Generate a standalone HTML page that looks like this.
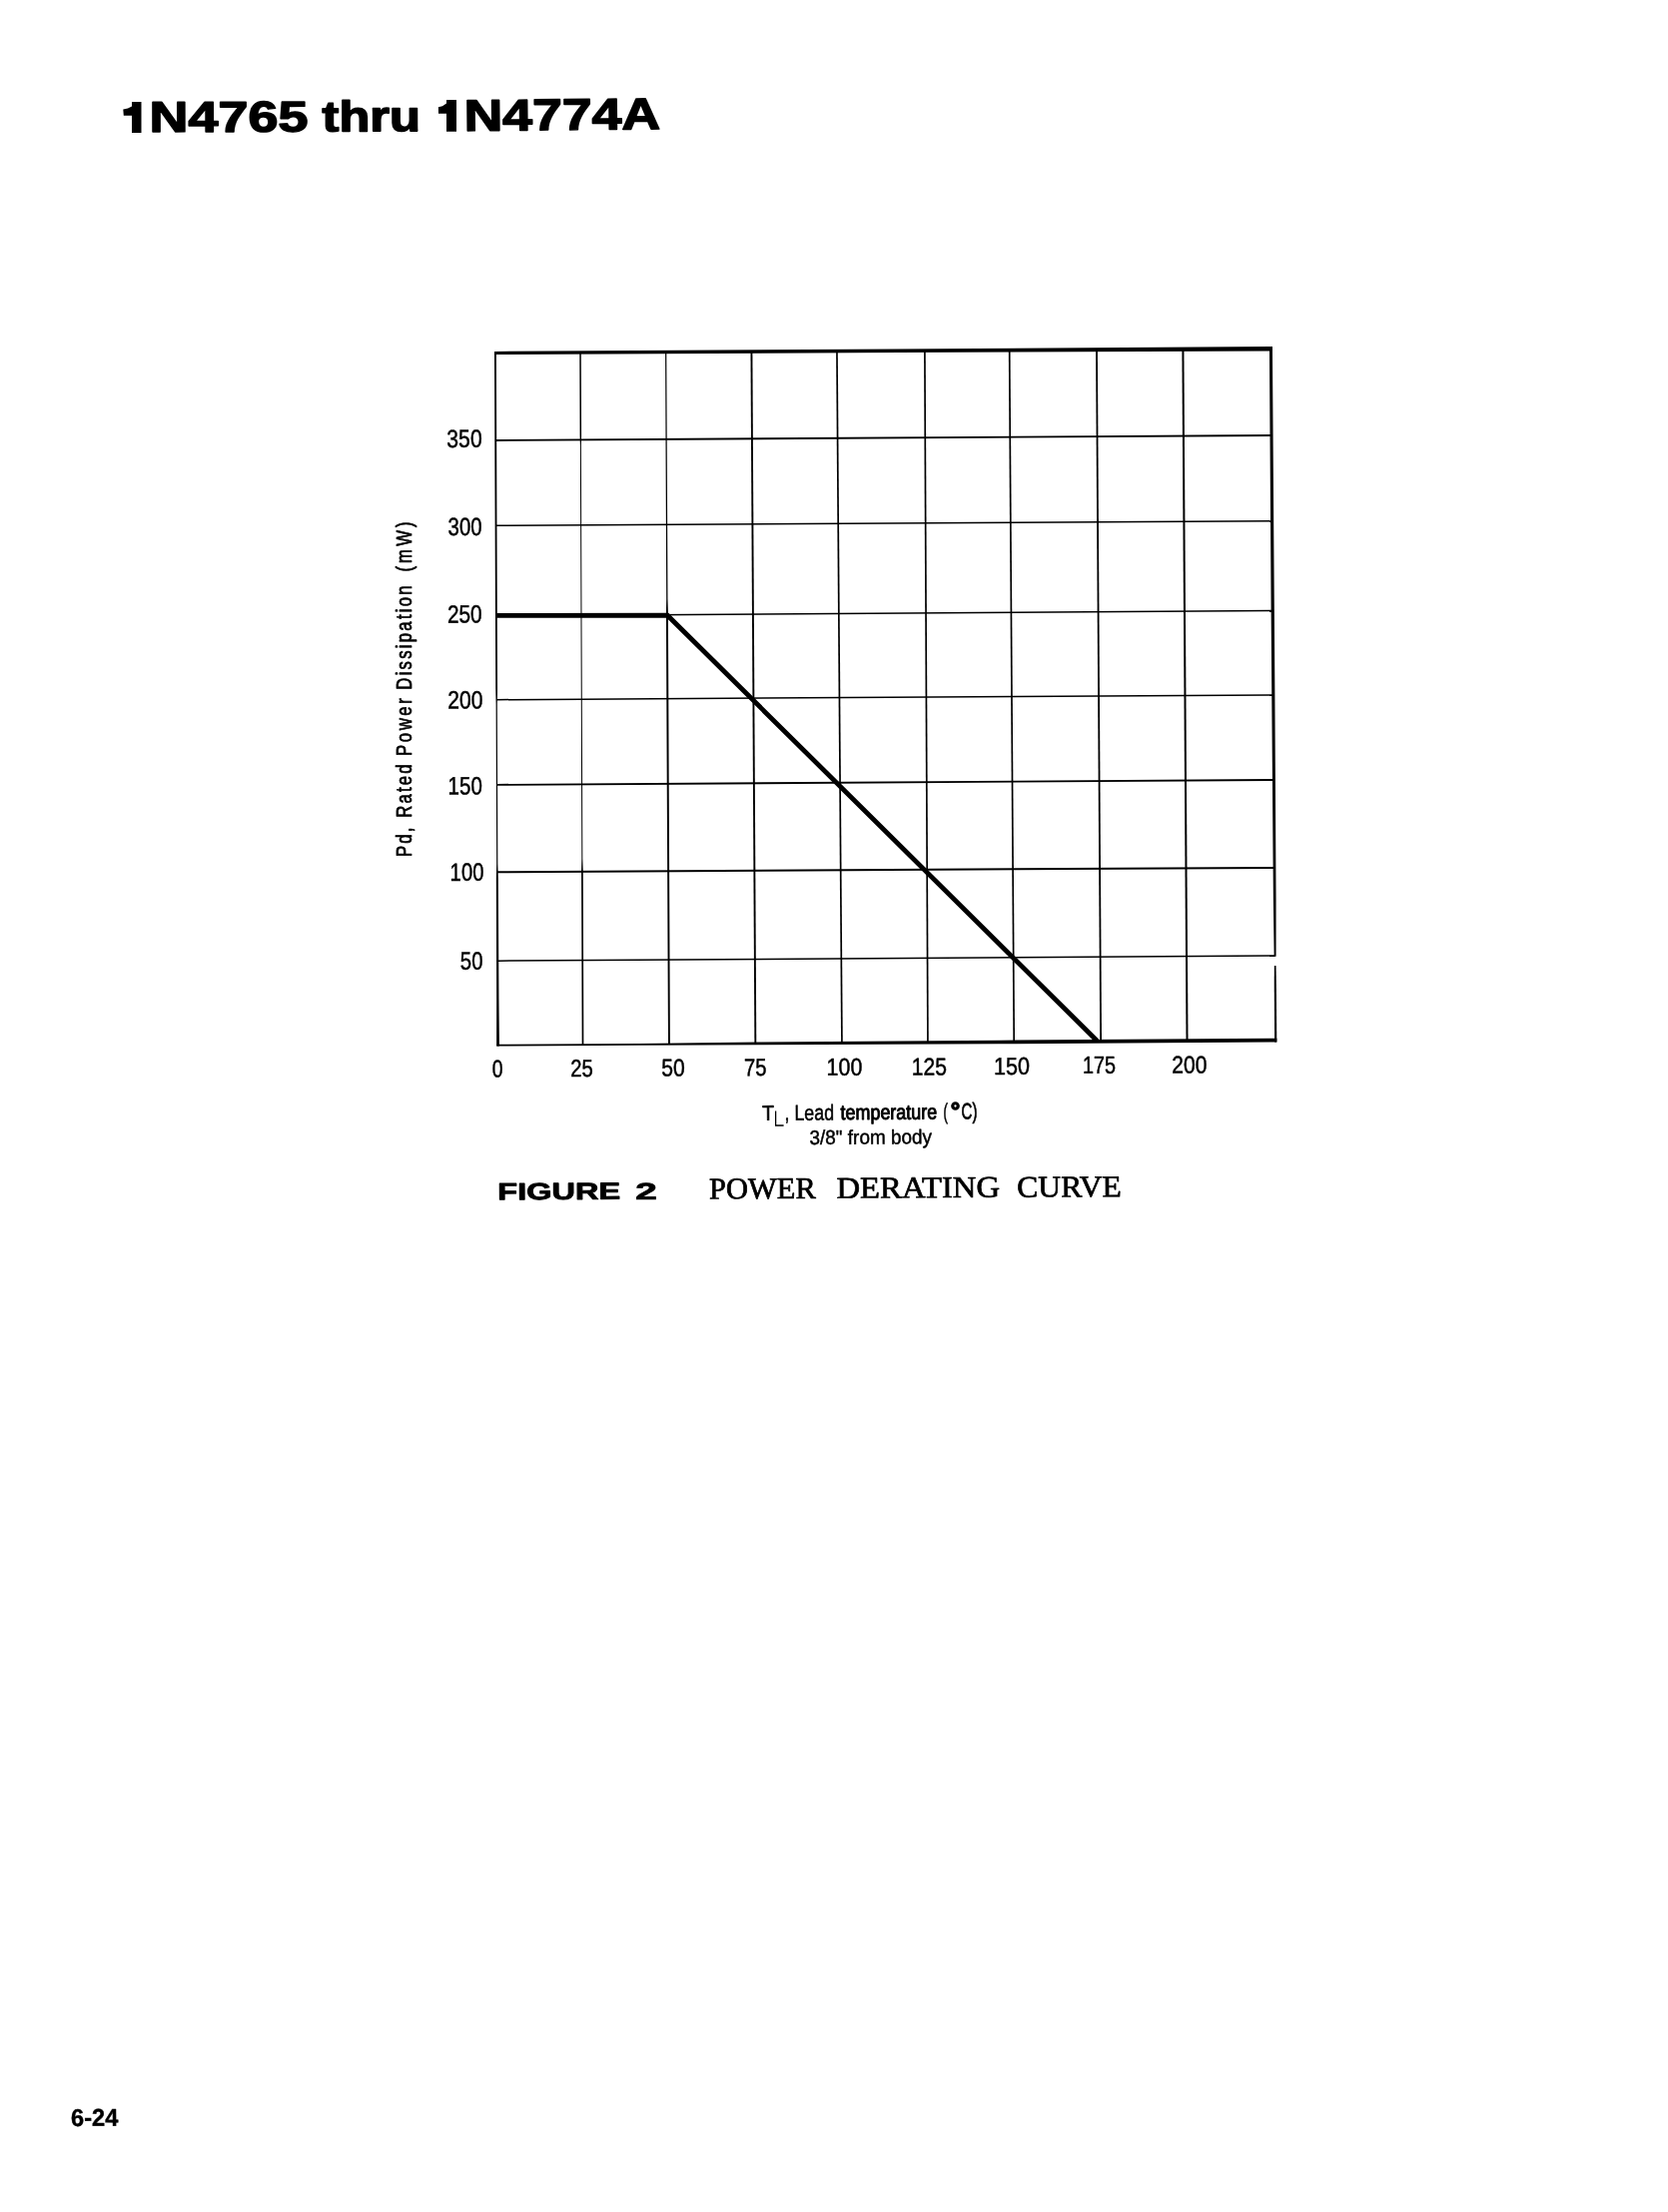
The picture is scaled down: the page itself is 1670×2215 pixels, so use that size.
<!DOCTYPE html>
<html><head><meta charset="utf-8"><title>1N4765 thru 1N4774A</title>
<style>
html,body{margin:0;padding:0;background:#fff;}
body{width:1670px;height:2215px;overflow:hidden;font-family:"Liberation Sans",sans-serif;}
svg{display:block;position:absolute;left:0;top:0;filter:grayscale(1);}
svg text{fill:#000;white-space:pre;}
svg .g line, svg .g polyline{stroke:#000;stroke-linecap:butt;}
</style></head><body>
<svg width="1670" height="2215" viewBox="0 0 1670 2215">
<rect width="1670" height="2215" fill="#fff"/>
<g class="g">
<polygon fill="#000" stroke="none" points="494.98,353.50 496.24,690.00 496.60,705.00 497.17,865.00 496.82,880.00 497.16,1000.00 497.13,1047.49 499.93,1047.49 499.46,1000.00 498.82,880.00 498.37,865.00 497.80,705.00 498.04,690.00 496.88,353.50"/>
<polygon fill="#000" stroke="none" points="580.28,353.03 580.58,436.00 580.87,446.00 582.35,860.00 582.05,872.00 582.67,1046.14 584.37,1046.14 583.75,872.00 583.35,860.00 581.87,446.00 582.08,436.00 581.78,353.03"/>
<polygon fill="#000" stroke="none" points="666.08,352.56 667.19,600.00 666.90,614.00 668.98,1045.59 670.88,1045.59 668.90,614.00 668.49,600.00 667.28,352.56"/>
<line x1="752.43" y1="352.09" x2="756.33" y2="1045.03" stroke-width="1.9"/>
<line x1="837.95" y1="351.61" x2="842.93" y2="1044.48" stroke-width="1.7"/>
<line x1="925.89" y1="351.13" x2="928.92" y2="1043.92" stroke-width="1.7"/>
<line x1="1010.68" y1="350.66" x2="1015.22" y2="1043.37" stroke-width="1.7"/>
<line x1="1098.00" y1="350.18" x2="1102.12" y2="1042.81" stroke-width="1.8"/>
<line x1="1184.40" y1="349.70" x2="1188.51" y2="1042.26" stroke-width="2.0"/>
<polygon fill="#000" stroke="none" points="1270.94,347.01 1272.61,610.00 1273.32,700.00 1274.86,900.00 1275.65,957.79 1277.55,957.79 1277.56,900.00 1276.42,700.00 1275.81,610.00 1273.94,347.01"/>
<polygon fill="#000" stroke="none" points="1275.81,967.00 1275.76,990.00 1276.12,1043.49 1278.32,1043.49 1277.86,990.00 1277.51,967.00"/>
<line x1="496.25" y1="441.00" x2="1273.04" y2="436.01" stroke-width="1.9"/>
<line x1="496.55" y1="526.30" x2="1273.62" y2="521.81" stroke-width="1.4"/>
<line x1="496.88" y1="616.80" x2="1274.22" y2="611.51" stroke-width="1.4"/>
<line x1="497.18" y1="700.70" x2="1274.79" y2="695.90" stroke-width="1.5"/>
<line x1="497.49" y1="785.90" x2="1275.36" y2="781.00" stroke-width="1.9"/>
<line x1="497.80" y1="873.30" x2="1275.95" y2="868.89" stroke-width="2.0"/>
<line x1="498.12" y1="962.19" x2="1276.54" y2="956.99" stroke-width="1.5"/>
<polygon fill="#000" stroke="none" points="494.93,351.91 900.00,349.47 1273.96,346.91 1273.96,351.51 900.00,353.07 494.93,355.11"/>
<polygon fill="#000" stroke="none" points="497.42,1045.80 640.00,1044.88 760.00,1043.61 1000.00,1041.67 1278.31,1039.78 1278.31,1043.48 1000.00,1045.27 760.00,1046.31 640.00,1046.78 497.42,1047.60"/>
<polyline fill="none" stroke-width="4.8" stroke-linejoin="miter" points="496.88,616.4 668.3,616.2 1098.4,1042.2"/>
</g>
<g class="t">
<text transform="translate(152.70,132.10) rotate(-0.150) scale(0.53939,0.43143) translate(-6.000,0)" font-family="Liberation Sans, sans-serif" font-weight="bold" font-size="100" stroke="#000" stroke-width="3.30" stroke-linejoin="round">N4765</text>
<text transform="translate(323.00,131.50) rotate(-0.200) scale(0.50721,0.43143) translate(-1.000,0)" font-family="Liberation Sans, sans-serif" font-weight="bold" font-size="100" stroke="#000" stroke-width="3.41" stroke-linejoin="round">thru</text>
<text transform="translate(467.90,131.00) rotate(-0.570) scale(0.53586,0.44286) translate(-6.000,0)" font-family="Liberation Sans, sans-serif" font-weight="bold" font-size="100" stroke="#000" stroke-width="3.27" stroke-linejoin="round">N4774A</text>
<text transform="translate(447.93,447.88) rotate(-0.320) scale(0.21251,0.25071) translate(-3.000,0)" font-family="Liberation Sans, sans-serif" font-weight="normal" font-size="100" stroke="#000" stroke-width="1.94" stroke-linejoin="round">350</text>
<text transform="translate(449.23,536.07) rotate(-0.320) scale(0.20439,0.25071) translate(-3.000,0)" font-family="Liberation Sans, sans-serif" font-weight="normal" font-size="100" stroke="#000" stroke-width="1.98" stroke-linejoin="round">300</text>
<text transform="translate(448.93,623.67) rotate(-0.320) scale(0.20887,0.25071) translate(-5.000,0)" font-family="Liberation Sans, sans-serif" font-weight="normal" font-size="100" stroke="#000" stroke-width="1.96" stroke-linejoin="round">250</text>
<text transform="translate(449.23,709.57) rotate(-0.320) scale(0.21140,0.25071) translate(-5.000,0)" font-family="Liberation Sans, sans-serif" font-weight="normal" font-size="100" stroke="#000" stroke-width="1.95" stroke-linejoin="round">200</text>
<text transform="translate(450.03,795.57) rotate(-0.320) scale(0.20579,0.25071) translate(-7.000,0)" font-family="Liberation Sans, sans-serif" font-weight="normal" font-size="100" stroke="#000" stroke-width="1.97" stroke-linejoin="round">150</text>
<text transform="translate(452.03,881.88) rotate(-0.320) scale(0.20323,0.25071) translate(-7.000,0)" font-family="Liberation Sans, sans-serif" font-weight="normal" font-size="100" stroke="#000" stroke-width="1.98" stroke-linejoin="round">100</text>
<text transform="translate(461.62,970.77) rotate(-0.320) scale(0.20412,0.25071) translate(-4.000,0)" font-family="Liberation Sans, sans-serif" font-weight="normal" font-size="100" stroke="#000" stroke-width="1.98" stroke-linejoin="round">50</text>
<text transform="translate(493.23,1078.48) rotate(-0.320) scale(0.19490,0.24357) translate(-3.000,0)" font-family="Liberation Sans, sans-serif" font-weight="normal" font-size="100" stroke="#000" stroke-width="2.05" stroke-linejoin="round">0</text>
<text transform="translate(572.23,1078.08) rotate(-0.320) scale(0.20319,0.24357) translate(-5.000,0)" font-family="Liberation Sans, sans-serif" font-weight="normal" font-size="100" stroke="#000" stroke-width="2.01" stroke-linejoin="round">25</text>
<text transform="translate(663.02,1077.58) rotate(-0.320) scale(0.21184,0.24357) translate(-4.000,0)" font-family="Liberation Sans, sans-serif" font-weight="normal" font-size="100" stroke="#000" stroke-width="1.98" stroke-linejoin="round">50</text>
<text transform="translate(745.93,1077.18) rotate(-0.320) scale(0.20319,0.24357) translate(-5.000,0)" font-family="Liberation Sans, sans-serif" font-weight="normal" font-size="100" stroke="#000" stroke-width="2.01" stroke-linejoin="round">75</text>
<text transform="translate(829.02,1076.78) rotate(-0.320) scale(0.21475,0.24357) translate(-7.000,0)" font-family="Liberation Sans, sans-serif" font-weight="normal" font-size="100" stroke="#000" stroke-width="1.96" stroke-linejoin="round">100</text>
<text transform="translate(914.23,1076.58) rotate(-0.320) scale(0.21155,0.24357) translate(-7.000,0)" font-family="Liberation Sans, sans-serif" font-weight="normal" font-size="100" stroke="#000" stroke-width="1.98" stroke-linejoin="round">125</text>
<text transform="translate(996.52,1075.98) rotate(-0.320) scale(0.21667,0.24357) translate(-7.000,0)" font-family="Liberation Sans, sans-serif" font-weight="normal" font-size="100" stroke="#000" stroke-width="1.96" stroke-linejoin="round">150</text>
<text transform="translate(1085.42,1074.78) rotate(-0.320) scale(0.19874,0.24357) translate(-7.000,0)" font-family="Liberation Sans, sans-serif" font-weight="normal" font-size="100" stroke="#000" stroke-width="2.03" stroke-linejoin="round">175</text>
<text transform="translate(1174.32,1074.58) rotate(-0.320) scale(0.21203,0.24357) translate(-5.000,0)" font-family="Liberation Sans, sans-serif" font-weight="normal" font-size="100" stroke="#000" stroke-width="1.98" stroke-linejoin="round">200</text>
<text transform="translate(763.75,1121.85) rotate(-0.320) scale(0.19123,0.21014) translate(-2.000,0)" font-family="Liberation Sans, sans-serif" font-weight="normal" font-size="100" stroke="#000" stroke-width="3.49" stroke-linejoin="round">T</text>
<text transform="translate(787.02,1121.78) rotate(-0.320) scale(0.17794,0.21667) translate(-8.000,0)" font-family="Liberation Sans, sans-serif" font-weight="normal" font-size="100" stroke="#000" stroke-width="2.28" stroke-linejoin="round">, Lead</text>
<text transform="translate(841.75,1121.05) rotate(-0.320) scale(0.17922,0.21014) translate(-1.000,0)" font-family="Liberation Sans, sans-serif" font-weight="normal" font-size="100" stroke="#000" stroke-width="4.62" stroke-linejoin="round">temperature</text>
<text transform="translate(945.23,1120.68) rotate(-0.320) scale(0.13519,0.22246) translate(-6.000,0)" font-family="Liberation Sans, sans-serif" font-weight="normal" font-size="100" stroke="#000" stroke-width="2.52" stroke-linejoin="round">(</text>
<text transform="translate(963.30,1120.40) rotate(-0.320) scale(0.15123,0.22609) translate(-5.000,0)" font-family="Liberation Sans, sans-serif" font-weight="normal" font-size="100" stroke="#000" stroke-width="3.18" stroke-linejoin="round">C)</text>
<text transform="translate(811.12,1145.88) rotate(-0.320) scale(0.18939,0.20071) translate(-3.000,0)" font-family="Liberation Sans, sans-serif" font-weight="normal" font-size="100" stroke="#000" stroke-width="2.31" stroke-linejoin="round">3/8&quot; from body</text>
<text transform="translate(500.30,1201.30) rotate(-0.320) scale(0.32547,0.23623) translate(-6.000,0)" font-family="Liberation Sans, sans-serif" font-weight="bold" font-size="100" stroke="#000" stroke-width="3.56" stroke-linejoin="round">FIGURE</text>
<text transform="translate(637.50,1200.90) rotate(-0.320) scale(0.38776,0.23286) translate(-3.000,0)" font-family="Liberation Sans, sans-serif" font-weight="bold" font-size="100" stroke="#000" stroke-width="3.22" stroke-linejoin="round">2</text>
<text transform="translate(710.65,1200.45) rotate(-0.320) scale(0.30520,0.30308) translate(-2.000,0)" font-family="Liberation Serif, serif" font-weight="normal" font-size="100" stroke="#000" stroke-width="2.30" stroke-linejoin="round">POWER</text>
<text transform="translate(838.05,1199.65) rotate(-0.320) scale(0.32759,0.30308) translate(-2.000,0)" font-family="Liberation Serif, serif" font-weight="normal" font-size="100" stroke="#000" stroke-width="2.22" stroke-linejoin="round">DERATING</text>
<text transform="translate(1019.45,1198.65) rotate(-0.320) scale(0.31658,0.30308) translate(-4.000,0)" font-family="Liberation Serif, serif" font-weight="normal" font-size="100" stroke="#000" stroke-width="2.26" stroke-linejoin="round">CURVE</text>
<text transform="translate(71.70,2128.90) rotate(-0.320) scale(0.23692,0.24348) translate(-3.000,0)" font-family="Liberation Sans, sans-serif" font-weight="bold" font-size="100" stroke="#000" stroke-width="1.67" stroke-linejoin="round">6-24</text>
<text transform="translate(411.95,856.55) rotate(-90) scale(0.16730,0.22609) translate(-8.000,0)" font-family="Liberation Sans, sans-serif" font-weight="normal" font-size="100" stroke="#000" stroke-width="3.56" stroke-linejoin="round" letter-spacing="12.540">Pd,</text>
<text transform="translate(411.95,817.45) rotate(-90) scale(0.16730,0.22609) translate(-8.000,0)" font-family="Liberation Sans, sans-serif" font-weight="normal" font-size="100" stroke="#000" stroke-width="3.56" stroke-linejoin="round" letter-spacing="12.901">Rated</text>
<text transform="translate(411.95,755.65) rotate(-90) scale(0.16730,0.22609) translate(-8.000,0)" font-family="Liberation Sans, sans-serif" font-weight="normal" font-size="100" stroke="#000" stroke-width="3.56" stroke-linejoin="round" letter-spacing="15.442">Power</text>
<text transform="translate(411.95,689.35) rotate(-90) scale(0.16730,0.22609) translate(-8.000,0)" font-family="Liberation Sans, sans-serif" font-weight="normal" font-size="100" stroke="#000" stroke-width="3.56" stroke-linejoin="round" letter-spacing="13.477">Dissipation</text>
<text transform="translate(411.95,571.55) rotate(-90) scale(0.16730,0.22609) translate(-6.000,0)" font-family="Liberation Sans, sans-serif" font-weight="normal" font-size="100" stroke="#000" stroke-width="3.56" stroke-linejoin="round" letter-spacing="18.570">(mW)</text>
<polygon points="132,102 141.5,102 141.5,132.9 132,132.9 132,115.7 123.8,115.7 123.3,109.5 128,108.6 132,106.6"/>
<polygon points="447,100.1 457,100.0 457,131.8 447,131.8 447,113.8 439,113.8 438.9,107.3 443,106.2 447,103.6"/>
<path d="M776.6,1112.6 V1127.0 H784.6" fill="none" stroke="#000" stroke-width="1.3"/>
<circle cx="956.5" cy="1107.5" r="2.75" fill="none" stroke="#000" stroke-width="3.2"/>
</g>
</svg>
</body></html>
